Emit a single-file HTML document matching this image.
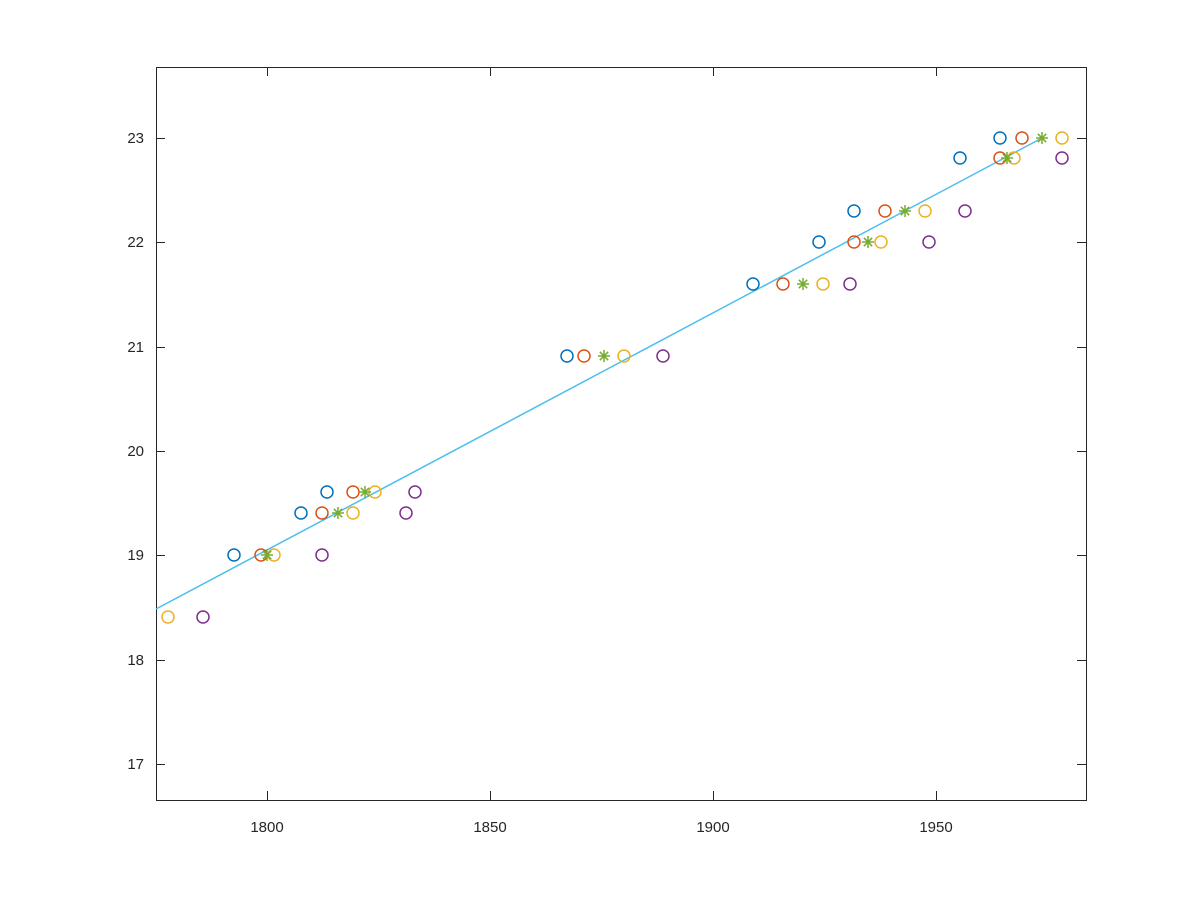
<!DOCTYPE html>
<html><head><style>body{margin:0;background:#fff}svg{display:block}text{font-family:"Liberation Sans",sans-serif;font-size:15px;fill:#262626}</style></head><body>
<svg width="1200" height="900" xmlns="http://www.w3.org/2000/svg">
<rect width="1200" height="900" fill="#fff"/>
<g stroke="#262626" stroke-width="1" fill="none">
<rect x="156.5" y="67.5" width="930" height="733"/>
<path d="M267.5 800v-9M490.5 800v-9M713.5 800v-9M936.5 800v-9M267.5 67v9M490.5 67v9M713.5 67v9M936.5 67v9"/>
<path d="M156 138.5h9M156 242.5h9M156 347.5h9M156 451.5h9M156 555.5h9M156 660.5h9M156 764.5h9M1086 138.5h-9M1086 242.5h-9M1086 347.5h-9M1086 451.5h-9M1086 555.5h-9M1086 660.5h-9M1086 764.5h-9"/>
</g>
<g text-anchor="middle"><text x="267" y="832">1800</text><text x="490" y="832">1850</text><text x="713" y="832">1900</text><text x="936" y="832">1950</text></g>
<g text-anchor="end"><text x="144" y="143">23</text><text x="144" y="247">22</text><text x="144" y="352">21</text><text x="144" y="456">20</text><text x="144" y="560">19</text><text x="144" y="665">18</text><text x="144" y="769">17</text></g>
<line x1="156" y1="609" x2="1042" y2="138" stroke="#4DBEEE" stroke-width="1.5"/>
<g fill="none" stroke-width="1.5">
<g stroke="#0072BD"><circle cx="234" cy="555" r="6"/><circle cx="301" cy="513" r="6"/><circle cx="327" cy="492" r="6"/><circle cx="567" cy="356" r="6"/><circle cx="753" cy="284" r="6"/><circle cx="819" cy="242" r="6"/><circle cx="854" cy="211" r="6"/><circle cx="960" cy="158" r="6"/><circle cx="1000" cy="138" r="6"/></g>
<g stroke="#D95319"><circle cx="261" cy="555" r="6"/><circle cx="322" cy="513" r="6"/><circle cx="353" cy="492" r="6"/><circle cx="584" cy="356" r="6"/><circle cx="783" cy="284" r="6"/><circle cx="854" cy="242" r="6"/><circle cx="885" cy="211" r="6"/><circle cx="1000" cy="158" r="6"/><circle cx="1022" cy="138" r="6"/></g>
<g stroke="#EDB120"><circle cx="168" cy="617" r="6"/><circle cx="274" cy="555" r="6"/><circle cx="353" cy="513" r="6"/><circle cx="375" cy="492" r="6"/><circle cx="624" cy="356" r="6"/><circle cx="823" cy="284" r="6"/><circle cx="881" cy="242" r="6"/><circle cx="925" cy="211" r="6"/><circle cx="1014" cy="158" r="6"/><circle cx="1062" cy="138" r="6"/></g>
<g stroke="#7E2F8E"><circle cx="203" cy="617" r="6"/><circle cx="322" cy="555" r="6"/><circle cx="406" cy="513" r="6"/><circle cx="415" cy="492" r="6"/><circle cx="663" cy="356" r="6"/><circle cx="850" cy="284" r="6"/><circle cx="929" cy="242" r="6"/><circle cx="965" cy="211" r="6"/><circle cx="1062" cy="158" r="6"/></g>
<g stroke="#77AC30">
<path id="a" d="M-6 0h12M0 -6v12M-4.2 -4.2l8.4 8.4M-4.2 4.2l8.4 -8.4" transform="translate(267 555)"/>
<path d="M-6 0h12M0 -6v12M-4.2 -4.2l8.4 8.4M-4.2 4.2l8.4 -8.4" transform="translate(338 513)"/>
<path d="M-6 0h12M0 -6v12M-4.2 -4.2l8.4 8.4M-4.2 4.2l8.4 -8.4" transform="translate(365 492)"/>
<path d="M-6 0h12M0 -6v12M-4.2 -4.2l8.4 8.4M-4.2 4.2l8.4 -8.4" transform="translate(604 356)"/>
<path d="M-6 0h12M0 -6v12M-4.2 -4.2l8.4 8.4M-4.2 4.2l8.4 -8.4" transform="translate(803 284)"/>
<path d="M-6 0h12M0 -6v12M-4.2 -4.2l8.4 8.4M-4.2 4.2l8.4 -8.4" transform="translate(868 242)"/>
<path d="M-6 0h12M0 -6v12M-4.2 -4.2l8.4 8.4M-4.2 4.2l8.4 -8.4" transform="translate(905 211)"/>
<path d="M-6 0h12M0 -6v12M-4.2 -4.2l8.4 8.4M-4.2 4.2l8.4 -8.4" transform="translate(1007 158)"/>
<path d="M-6 0h12M0 -6v12M-4.2 -4.2l8.4 8.4M-4.2 4.2l8.4 -8.4" transform="translate(1042 138)"/>
</g>
</g>
</svg>
</body></html>
